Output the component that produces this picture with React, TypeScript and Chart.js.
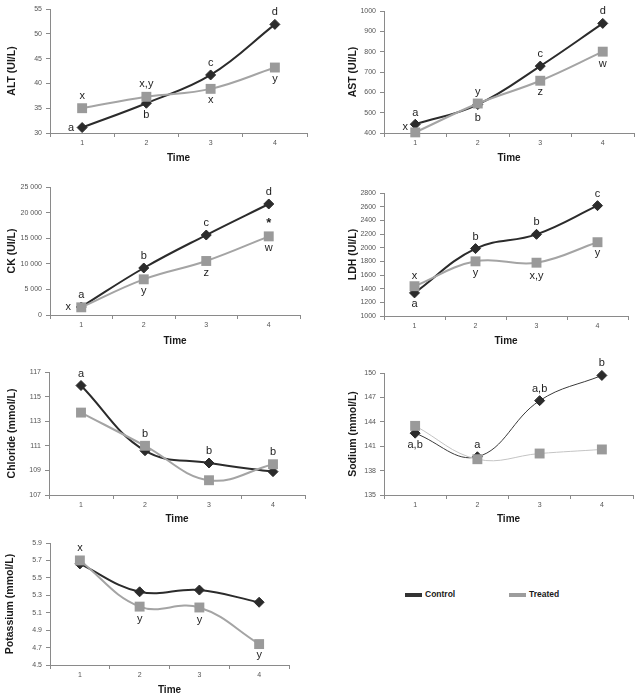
import { useEffect, useRef } from 'react';
import { Chart, registerables } from 'chart.js';

Chart.register(...registerables);

// ---------------- DATA ----------------
const TIMES = ['1', '2', '3', '4'];

const ALT_TICKS = [30, 35, 40, 45, 50, 55];
const ALT_CONTROL = [31.1, 36.0, 41.7, 51.9];
const ALT_TREATED = [35.0, 37.3, 38.9, 43.2];
const ALT_CONTROL_LETTERS = ['a', 'b', 'c', 'd'];
const ALT_TREATED_LETTERS = ['x', 'x,y', 'x', 'y'];

const AST_TICKS = [400, 500, 600, 700, 800, 900, 1000];
const AST_CONTROL = [443, 540, 729, 939];
const AST_TREATED = [403, 545, 657, 800];
const AST_CONTROL_LETTERS = ['a', 'b', 'c', 'd'];
const AST_TREATED_LETTERS = ['x', 'y', 'z', 'w'];

const CK_TICKS = [0, 5000, 10000, 15000, 20000, 25000];
const CK_CONTROL = [1560, 9180, 15620, 21680];
const CK_TREATED = [1500, 6970, 10550, 15360];
const CK_CONTROL_LETTERS = ['a', 'b', 'c', 'd'];
const CK_TREATED_LETTERS = ['x', 'y', 'z', 'w'];
const CK_TREATED_STARS = ['', '', '', '*'];

const LDH_TICKS = [1000, 1200, 1400, 1600, 1800, 2000, 2200, 2400, 2600, 2800];
const LDH_CONTROL = [1338, 1986, 2195, 2615];
const LDH_TREATED = [1436, 1800, 1780, 2080];
const LDH_CONTROL_LETTERS = ['a', 'b', 'b', 'c'];
const LDH_TREATED_LETTERS = ['x', 'y', 'x,y', 'y'];

const CL_TICKS = [107, 109, 111, 113, 115, 117];
const CL_CONTROL = [115.9, 110.6, 109.6, 108.9];
const CL_TREATED = [113.7, 111.0, 108.2, 109.5];
const CL_CONTROL_LETTERS = ['a', 'b', 'b', 'b'];

const NA_TICKS = [135, 138, 141, 144, 147, 150];
const NA_CONTROL = [142.6, 139.7, 146.6, 149.7];
const NA_TREATED = [143.5, 139.4, 140.1, 140.6];
const NA_CONTROL_LETTERS = ['a,b', 'a', 'a,b', 'b'];

const K_TICKS = [4.5, 4.7, 4.9, 5.1, 5.3, 5.5, 5.7, 5.9];
const K_CONTROL = [5.66, 5.34, 5.36, 5.22];
const K_TREATED = [5.70, 5.17, 5.16, 4.74];
const K_TREATED_LETTERS = ['x', 'y', 'y', 'y'];

const SERIES_NAMES = ['Control', 'Treated'];

// ---------------- STYLE / LAYOUT ----------------
const FONT = '"Liberation Sans", Arial, Helvetica, sans-serif';
const CONTROL_COLOR = '#2b2b2b';
const TREATED_COLOR = '#9a9a9a';
const AXIS_COLOR = '#8a8a8a';
const PAD_T = 24;
const PAD_R = 4;
const YTITLE_SIZE = 10.5;
const TIME_SIZE = 10;

type Pos = [number, number] | null;
type Note = { texts: string[]; pos: Pos[]; bold?: boolean };

interface PanelCfg {
  key: string;
  title: string;
  ticks: number[];
  fmt: (v: number) => string;
  control: number[];
  treated: number[];
  controlNotes: Note[];
  treatedNotes: Note[];
  box: { left: number; right: number; top: number; bottom: number; titleX: number; timeY: number };
  thin?: boolean;
}

const fmtInt = (v: number) => String(v);
const fmtSpace = (v: number) => String(v).replace(/\B(?=(\d{3})+(?!\d))/g, ' ');
const fmt1 = (v: number) => v.toFixed(1);

const UP: Pos = [0, -12];
const DN: Pos = [0, 12];

const PANELS: PanelCfg[] = [
  {
    key: 'alt', title: 'ALT (UI/L)', ticks: ALT_TICKS, fmt: fmtInt,
    control: ALT_CONTROL, treated: ALT_TREATED,
    controlNotes: [{ texts: ALT_CONTROL_LETTERS, pos: [[-11, 0], [0, 12], UP, UP] }],
    treatedNotes: [{ texts: ALT_TREATED_LETTERS, pos: [UP, [0, -13], [0, 11], [0, 11]] }],
    box: { left: 50, right: 310, top: 9, bottom: 133, titleX: 12, timeY: 158 },
  },
  {
    key: 'ast', title: 'AST (UI/L)', ticks: AST_TICKS, fmt: fmtInt,
    control: AST_CONTROL, treated: AST_TREATED,
    controlNotes: [{ texts: AST_CONTROL_LETTERS, pos: [[0, -11], [0, 13], UP, UP] }],
    treatedNotes: [{ texts: AST_TREATED_LETTERS, pos: [[-10, -5], UP, [0, 11], DN] }],
    box: { left: 384, right: 637, top: 11, bottom: 133, titleX: 353, timeY: 158 },
  },
  {
    key: 'ck', title: 'CK (UI/L)', ticks: CK_TICKS, fmt: fmtSpace,
    control: CK_CONTROL, treated: CK_TREATED,
    controlNotes: [{ texts: CK_CONTROL_LETTERS, pos: [UP, UP, UP, UP] }],
    treatedNotes: [
      { texts: CK_TREATED_LETTERS, pos: [[-13, 0], DN, DN, DN] },
      { texts: CK_TREATED_STARS, pos: [null, null, null, [0, -13]], bold: true },
    ],
    box: { left: 50, right: 303, top: 187, bottom: 315, titleX: 12, timeY: 341 },
  },
  {
    key: 'ldh', title: 'LDH (UI/L)', ticks: LDH_TICKS, fmt: fmtInt,
    control: LDH_CONTROL, treated: LDH_TREATED,
    controlNotes: [{ texts: LDH_CONTROL_LETTERS, pos: [[0, 11], UP, UP, UP] }],
    treatedNotes: [{ texts: LDH_TREATED_LETTERS, pos: [[0, -10], DN, [0, 13], [0, 11]] }],
    box: { left: 384, right: 631, top: 193, bottom: 316, titleX: 353, timeY: 341 },
  },
  {
    key: 'cl', title: 'Chloride (mmol/L)', ticks: CL_TICKS, fmt: fmtInt,
    control: CL_CONTROL, treated: CL_TREATED,
    controlNotes: [{ texts: CL_CONTROL_LETTERS, pos: [UP, [0, -17], UP, [0, -20]] }],
    treatedNotes: [],
    box: { left: 49, right: 308, top: 372, bottom: 495, titleX: 12, timeY: 519 },
  },
  {
    key: 'na', title: 'Sodium (mmol/L)', ticks: NA_TICKS, fmt: fmtInt,
    control: NA_CONTROL, treated: NA_TREATED,
    controlNotes: [{ texts: NA_CONTROL_LETTERS, pos: [DN, UP, UP, UP] }],
    treatedNotes: [],
    box: { left: 384, right: 636, top: 373, bottom: 495, titleX: 353, timeY: 519 },
    thin: true,
  },
  {
    key: 'k', title: 'Potassium (mmol/L)', ticks: K_TICKS, fmt: fmt1,
    control: K_CONTROL, treated: K_TREATED,
    controlNotes: [],
    treatedNotes: [{ texts: K_TREATED_LETTERS, pos: [UP, DN, DN, [0, 11]] }],
    box: { left: 50, right: 292, top: 543, bottom: 665, titleX: 10, timeY: 690 },
  },
];

const notesPlugin = {
  id: 'notes',
  afterDatasetsDraw(chart: any) {
    const ctx = chart.ctx;
    chart.data.datasets.forEach((ds: any, di: number) => {
      const notes: Note[] = ds.notes || [];
      const meta = chart.getDatasetMeta(di);
      notes.forEach((n) => {
        n.texts.forEach((t, i) => {
          const p = n.pos[i];
          if (!t || !p) return;
          const el = meta.data[i];
          ctx.save();
          ctx.font = n.bold ? `bold 13px ${FONT}` : `11px ${FONT}`;
          ctx.fillStyle = '#1e1e1e';
          ctx.textAlign = 'center';
          ctx.textBaseline = 'middle';
          ctx.fillText(t, el.x + p[0], el.y + p[1]);
          ctx.restore();
        });
      });
    });
  },
};

function Panel({ cfg }: { cfg: PanelCfg }) {
  const ref = useRef<HTMLCanvasElement | null>(null);
  const b = cfg.box;
  const canvasLeft = Math.round(b.titleX - (YTITLE_SIZE * 1.2) / 2);
  const yw = b.left - canvasLeft;
  const canvasTop = b.top - PAD_T;
  const xh = Math.round(b.timeY + (TIME_SIZE * 1.2) / 2 - b.bottom);
  const width = b.right + PAD_R - canvasLeft;
  const height = PAD_T + (b.bottom - b.top) + xh;

  useEffect(() => {
    if (!ref.current) return;
    const lw = cfg.thin ? 1 : 2;
    const chart = new Chart(ref.current, {
      type: 'line',
      data: {
        labels: TIMES,
        datasets: [
          {
            label: SERIES_NAMES[1],
            data: cfg.treated,
            borderColor: cfg.thin ? '#c4c4c4' : '#a4a4a4',
            backgroundColor: TREATED_COLOR,
            borderWidth: lw,
            pointStyle: 'rect',
            pointRadius: 7,
            pointBorderWidth: 0,
            pointBackgroundColor: TREATED_COLOR,
            tension: 0.4,
            clip: false,
            notes: cfg.treatedNotes,
          } as any,
          {
            label: SERIES_NAMES[0],
            data: cfg.control,
            borderColor: cfg.thin ? '#3a3a3a' : CONTROL_COLOR,
            backgroundColor: CONTROL_COLOR,
            borderWidth: lw,
            pointStyle: 'rectRot',
            pointRadius: 5,
            pointBorderWidth: 1,
            pointBorderColor: CONTROL_COLOR,
            pointBackgroundColor: CONTROL_COLOR,
            tension: 0.4,
            clip: false,
            notes: cfg.controlNotes,
          } as any,
        ],
      },
      options: {
        animation: false,
        responsive: false,
        maintainAspectRatio: false,
        events: [],
        layout: { padding: { top: PAD_T, right: PAD_R, left: 0, bottom: 0 } },
        plugins: { legend: { display: false }, tooltip: { enabled: false } },
        scales: {
          x: {
            type: 'category',
            offset: true,
            grid: { offset: true, drawOnChartArea: false, drawTicks: true, tickLength: 4, color: AXIS_COLOR },
            border: { display: true, color: AXIS_COLOR },
            ticks: { font: { size: 7, family: FONT }, color: '#555', padding: 2, maxRotation: 0 },
            title: { display: true, text: 'Time', color: '#1a1a1a', padding: 0, font: { size: TIME_SIZE, weight: 'bold', family: FONT } },
            afterFit: (s: any) => { s.height = xh; },
          },
          y: {
            type: 'linear',
            min: cfg.ticks[0],
            max: cfg.ticks[cfg.ticks.length - 1],
            afterBuildTicks: (s: any) => { s.ticks = cfg.ticks.map((v) => ({ value: v })); },
            afterFit: (s: any) => { s.width = yw; },
            grid: { drawOnChartArea: false, drawTicks: true, tickLength: 4, color: AXIS_COLOR },
            border: { display: true, color: AXIS_COLOR },
            ticks: { font: { size: 7, family: FONT }, color: '#555', padding: 4, callback: (v: any) => cfg.fmt(Number(v)) },
            title: { display: true, text: cfg.title, color: '#1a1a1a', padding: 0, font: { size: YTITLE_SIZE, weight: 'bold', family: FONT } },
          },
        },
      } as any,
      plugins: [notesPlugin],
    });
    return () => chart.destroy();
  }, []);

  return (
    <canvas
      ref={ref}
      width={width}
      height={height}
      style={{ position: 'absolute', left: canvasLeft, top: canvasTop, width, height }}
    />
  );
}

export default function App() {
  const legendText = { position: 'absolute' as const, top: 589, height: 12, lineHeight: '12px', font: `bold 8.5px ${FONT}`, color: '#1a1a1a' };
  return (
    <div style={{ position: 'absolute', left: 0, top: 0, width: 643, height: 698, background: '#fff', overflow: 'hidden' }}>
      {PANELS.map((p) => <Panel key={p.key} cfg={p} />)}
      <div style={{ position: 'absolute', left: 405, top: 593, width: 17, height: 4, background: '#333' }} />
      <div style={{ ...legendText, left: 425 }}>{SERIES_NAMES[0]}</div>
      <div style={{ position: 'absolute', left: 509, top: 593, width: 17, height: 4, background: '#9d9d9d' }} />
      <div style={{ ...legendText, left: 529 }}>{SERIES_NAMES[1]}</div>
    </div>
  );
}
